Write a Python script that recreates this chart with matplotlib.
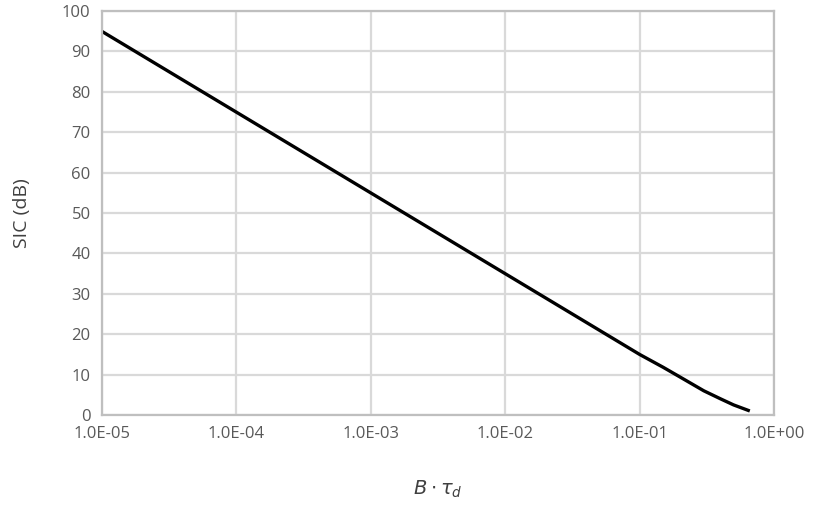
import matplotlib
matplotlib.use("Agg")
import matplotlib.pyplot as plt
import numpy as np

x_vals = [1e-5, 1e-4, 1e-3, 1e-2, 1e-1, 0.15, 0.2, 0.3, 0.4, 0.5, 0.66]
sic_db = [95, 75, 55, 35, 15, 11.8, 9.4, 6.0, 4.0, 2.5, 1.0]
x_ticks = [1e-5, 1e-4, 1e-3, 1e-2, 1e-1, 1e0]
x_tick_labels = ["1.0E-05", "1.0E-04", "1.0E-03", "1.0E-02", "1.0E-01", "1.0E+00"]
y_ticks = list(range(0, 101, 10))

plt.rcParams['font.family'] = ['Open Sans', 'DejaVu Sans']

fig = plt.figure(figsize=(8.27, 5.27), dpi=100)
ax = fig.add_axes([0.123, 0.2125, 0.813, 0.7665])
ax.plot(x_vals, sic_db, color='black', lw=2.4, solid_capstyle='butt', solid_joinstyle='round')
ax.set_xscale('log')
ax.set_xlim(1e-5, 1e0)
ax.set_ylim(0, 100)
ax.set_xticks(x_ticks)
ax.set_xticklabels(x_tick_labels)
ax.xaxis.set_minor_locator(matplotlib.ticker.NullLocator())
ax.set_yticks(y_ticks)
ax.grid(True, color='#d9d9d9', lw=1.6)
ax.set_axisbelow(True)
for s in ax.spines.values():
    s.set_color('#bfbfbf')
    s.set_linewidth(1.6)
ax.tick_params(length=0, pad=8, labelsize=12, labelcolor='#595959')
ax.set_ylabel('SIC (dB)', fontsize=14, color='#404040', labelpad=22)
ax.set_xlabel(r'$B\cdot\tau_d$', fontsize=14, color='#404040', labelpad=26)
fig.savefig('out.png', dpi=100)
